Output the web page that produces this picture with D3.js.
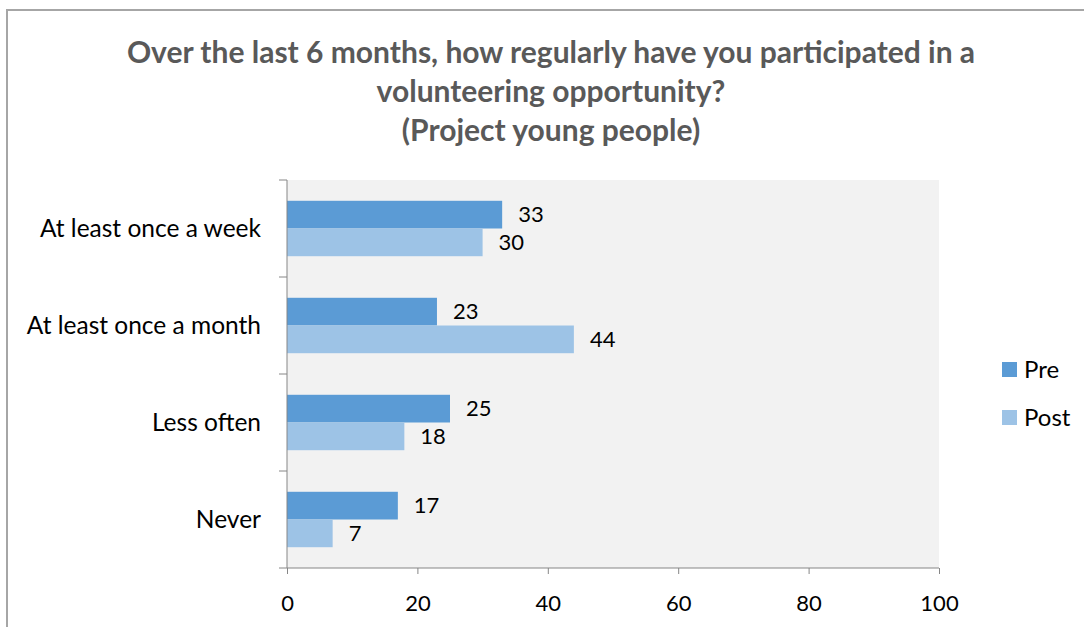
<!DOCTYPE html>
<html>
<head>
<meta charset="utf-8">
<script src="https://cdn.jsdelivr.net/npm/d3@7"></script>
<style>
  html, body { margin: 0; padding: 0; background: #fff; }
  svg { display: block; font-family: Lato, "Open Sans", sans-serif; }
</style>
</head>
<body>
<svg id="chart" width="1084" height="627"></svg>
<script>
// Survey responses, project young people, pre and post
const categories = ["At least once a week", "At least once a month", "Less often", "Never"];
const seriesNames = ["Pre", "Post"];
const preValues = [33, 23, 25, 17];
const postValues = [30, 44, 18, 7];
const xTicks = [0, 20, 40, 60, 80, 100];
const titleLines = [
  "Over the last 6 months, how regularly have you participated in a",
  "volunteering opportunity?",
  "(Project young people)"
];

const colors = { Pre: "#5B9BD5", Post: "#9DC3E6" };
const series = { Pre: preValues, Post: postValues };

const svg = d3.select("#chart");

// outer chart frame
svg.append("rect")
  .attr("x", 7).attr("y", 10)
  .attr("width", 1100).attr("height", 700)
  .attr("fill", "#fff")
  .attr("stroke", "#a6a6a6").attr("stroke-width", 2);

const plot = { left: 287, right: 939, top: 180, bottom: 568 };

const x = d3.scaleLinear().domain([0, 100]).range([plot.left, plot.right]);
const y = d3.scaleBand().domain(categories).range([plot.top, plot.bottom]).paddingInner(0).paddingOuter(0);
const inner = d3.scaleBand().domain(seriesNames).range([0, y.bandwidth()]).paddingInner(0).paddingOuter(0.75);

// plot background
svg.append("rect")
  .attr("x", plot.left).attr("y", plot.top)
  .attr("width", plot.right - plot.left).attr("height", plot.bottom - plot.top)
  .attr("fill", "#f2f2f2");

// title
svg.append("g").selectAll("text")
  .data(titleLines).join("text")
  .attr("x", 551)
  .attr("y", (d, i) => 63 + i * 39)
  .attr("text-anchor", "middle")
  .attr("font-size", 30)
  .attr("font-weight", "bold")
  .attr("fill", "#595959")
  .text(d => d);

// bars
const groups = svg.append("g").selectAll("g")
  .data(categories).join("g")
  .attr("transform", d => `translate(0,${y(d)})`);

groups.selectAll("rect")
  .data((c, i) => seriesNames.map(s => ({ s, v: series[s][i] })))
  .join("rect")
  .attr("x", x(0))
  .attr("y", d => inner(d.s))
  .attr("width", d => x(d.v) - x(0))
  .attr("height", inner.bandwidth())
  .attr("fill", d => colors[d.s]);

// value labels
groups.selectAll("text")
  .data((c, i) => seriesNames.map(s => ({ s, v: series[s][i] })))
  .join("text")
  .attr("x", d => x(d.v) + 16)
  .attr("y", d => inner(d.s) + inner.bandwidth() / 2)
  .attr("dy", "0.35em")
  .attr("font-size", 22)
  .attr("fill", "#000")
  .text(d => d.v);

// x axis
const xAxis = d3.axisBottom(x).tickValues(xTicks).tickSize(6).tickPadding(21);
const gx = svg.append("g")
  .attr("transform", `translate(0,${plot.bottom})`)
  .call(xAxis);
gx.select(".domain").attr("stroke", "#868686").attr("d", `M${plot.left},0H${plot.right}`);
gx.selectAll(".tick line").attr("stroke", "#868686");
gx.selectAll(".tick text").attr("font-size", 22).attr("font-family", "Lato, sans-serif").attr("fill", "#000");

// y axis: ticks sit on category boundaries
const yEdges = categories.map(c => y(c)).concat([plot.bottom]);
const gy = svg.append("g");
gy.append("line")
  .attr("x1", plot.left).attr("x2", plot.left)
  .attr("y1", plot.top).attr("y2", plot.bottom)
  .attr("stroke", "#868686");
gy.selectAll("line.tk").data(yEdges).join("line")
  .attr("class", "tk")
  .attr("x1", plot.left - 8).attr("x2", plot.left)
  .attr("y1", d => d).attr("y2", d => d)
  .attr("stroke", "#868686");
gy.selectAll("text").data(categories).join("text")
  .attr("x", 261)
  .attr("y", d => y(d) + y.bandwidth() / 2)
  .attr("dy", "0.35em")
  .attr("text-anchor", "end")
  .attr("font-size", 24.5)
  .attr("fill", "#000")
  .text(d => d);

// legend
const legend = svg.append("g").selectAll("g")
  .data(seriesNames).join("g")
  .attr("transform", (d, i) => `translate(1002,${362 + i * 48})`);
legend.append("rect")
  .attr("width", 15).attr("height", 15)
  .attr("fill", d => colors[d]);
legend.append("text")
  .attr("x", 22).attr("y", 7.5)
  .attr("dy", "0.35em")
  .attr("font-size", 24)
  .attr("fill", "#000")
  .text(d => d);
</script>
</body>
</html>
